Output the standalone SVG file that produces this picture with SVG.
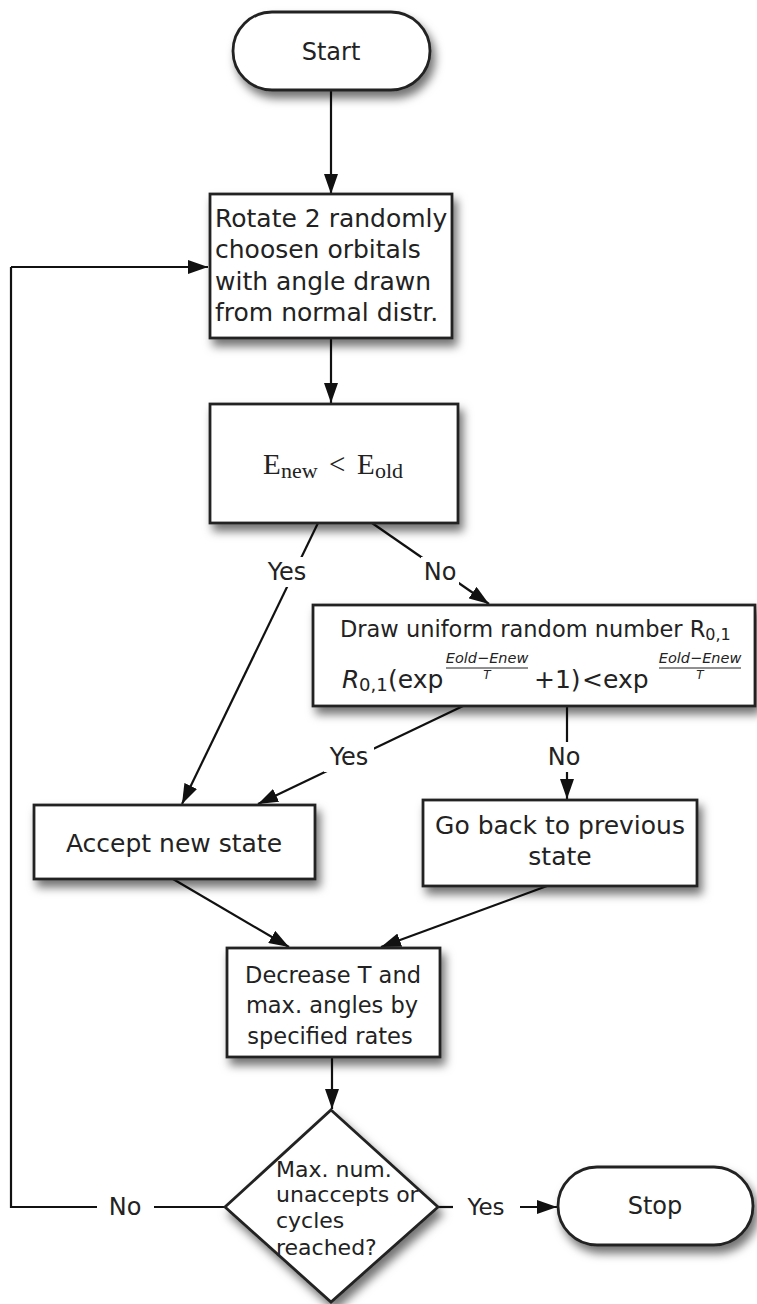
<svg xmlns="http://www.w3.org/2000/svg" width="757" height="1304" viewBox="0 0 757 1304">
<defs>
<filter id="sh" x="-20%" y="-20%" width="150%" height="160%">
<feDropShadow dx="4" dy="7" stdDeviation="5" flood-color="#000" flood-opacity="0.55"/>
</filter>
<marker id="ah" markerUnits="userSpaceOnUse" markerWidth="20" markerHeight="14" refX="20" refY="7" orient="auto">
<path d="M0,0 L20,7 L0,14 z" fill="#111"/>
</marker>
<style>
.box{fill:#fff;stroke:#222;stroke-width:2.8;filter:url(#sh)}
.t{font-family:"DejaVu Sans",sans-serif;fill:#222}
.c{stroke:#111;stroke-width:2.2;fill:none}
.a{marker-end:url(#ah)}
.lb{fill:#fff}
</style>
</defs>
<g id="connectors">
<path class="c a" d="M331,90 L331,194"/>
<path class="c a" d="M331,338 L331,403"/>
<path class="c a" d="M318,523 L182,804"/>
<path class="c a" d="M372,523 L489,604"/>
<path class="c a" d="M463,706 L258,804"/>
<path class="c a" d="M567,706 L567,799"/>
<path class="c a" d="M173,879 L289,947"/>
<path class="c a" d="M547,886 L381,947"/>
<path class="c a" d="M332,1057 L332,1109"/>
<path class="c" d="M225,1207 L154,1207 M97,1207 L11,1207 L11,267"/>
<path class="c a" d="M11,267 L208,267"/>
<path class="c" d="M438,1207 L453,1207"/>
<path class="c a" d="M520,1207 L557,1207"/>
<rect class="lb" x="262" y="557" width="50" height="30"/>
<text class="t" x="287" y="580" font-size="24" text-anchor="middle">Yes</text>
<rect class="lb" x="421" y="557" width="38" height="30"/>
<text class="t" x="440" y="580" font-size="24" text-anchor="middle">No</text>
<rect class="lb" x="324" y="742" width="50" height="30"/>
<text class="t" x="349" y="765" font-size="24" text-anchor="middle">Yes</text>
<rect class="lb" x="545" y="742" width="38" height="30"/>
<text class="t" x="564" y="765" font-size="24" text-anchor="middle">No</text>
<text class="t" x="125" y="1215" font-size="24" text-anchor="middle">No</text>
<text class="t" x="486" y="1215" font-size="23" text-anchor="middle">Yes</text>
</g>
<g id="start">
<rect class="box" x="233" y="12" width="197" height="78" rx="39"/>
<text class="t" x="331" y="60" font-size="24" text-anchor="middle">Start</text>
</g>
<g id="rotate">
<rect class="box" x="210" y="194" width="242" height="144"/>
<text class="t" x="215" y="227" font-size="25">Rotate 2 randomly</text>
<text class="t" x="215" y="258" font-size="25">choosen orbitals</text>
<text class="t" x="215" y="290" font-size="25">with angle drawn</text>
<text class="t" x="215" y="321" font-size="25">from normal distr.</text>
</g>
<g id="compare">
<rect class="box" x="210" y="404" width="248" height="119"/>
<g font-family="Liberation Serif, serif" fill="#222">
<text x="263" y="474" font-size="29">E</text>
<text x="281" y="478" font-size="22">new</text>
<text x="329" y="474" font-size="29">&lt;</text>
<text x="357" y="474" font-size="29">E</text>
<text x="375" y="478" font-size="22">old</text>
</g>
</g>
<g id="draw">
<rect class="box" x="313" y="605" width="442" height="101"/>
<text class="t" x="340" y="637" font-size="22.5">Draw uniform random number R<tspan font-size="16" dy="3">0,1</tspan></text>
<text class="t" x="342" y="688" font-size="25" font-style="italic">R</text>
<text class="t" x="359" y="691" font-size="18">0,1</text>
<text class="t" x="388" y="688" font-size="25">(exp</text>
<text class="t" x="487" y="663" font-size="14.5" font-style="italic" text-anchor="middle">Eold−Enew</text>
<line x1="446" y1="668" x2="528" y2="668" stroke="#222" stroke-width="1.2"/>
<text class="t" x="487" y="679" font-size="12" font-style="italic" text-anchor="middle">T</text>
<text class="t" x="534" y="688" font-size="25">+1)</text>
<text class="t" x="582" y="688" font-size="25">&lt;</text>
<text class="t" x="603" y="688" font-size="25">exp</text>
<text class="t" x="700" y="663" font-size="14.5" font-style="italic" text-anchor="middle">Eold−Enew</text>
<line x1="659" y1="668" x2="741" y2="668" stroke="#222" stroke-width="1.2"/>
<text class="t" x="700" y="679" font-size="12" font-style="italic" text-anchor="middle">T</text>
</g>
<g id="accept">
<rect class="box" x="34" y="805" width="281" height="74"/>
<text class="t" x="174" y="852" font-size="25" text-anchor="middle">Accept new state</text>
</g>
<g id="goback">
<rect class="box" x="423" y="800" width="274" height="86"/>
<text class="t" x="560" y="834" font-size="25" text-anchor="middle">Go back to previous</text>
<text class="t" x="560" y="865" font-size="25" text-anchor="middle">state</text>
</g>
<g id="decrease">
<rect class="box" x="227" y="948" width="213" height="109"/>
<text class="t" x="333" y="983" font-size="22.5" text-anchor="middle">Decrease T and</text>
<text class="t" x="332" y="1013" font-size="22.5" text-anchor="middle">max. angles by</text>
<text class="t" x="330" y="1044" font-size="22.5" text-anchor="middle">specified rates</text>
</g>
<g id="decision">
<path class="box" d="M331,1110 L438,1207 L331,1302 L225,1207 z"/>
<text class="t" x="276" y="1177" font-size="22">Max. num.</text>
<text class="t" x="276" y="1202" font-size="22">unaccepts or</text>
<text class="t" x="276" y="1228" font-size="22">cycles</text>
<text class="t" x="276" y="1255" font-size="22">reached?</text>
</g>
<g id="stop">
<rect class="box" x="558" y="1167" width="195" height="78" rx="39"/>
<text class="t" x="655" y="1214" font-size="24" text-anchor="middle">Stop</text>
</g>
</svg>
